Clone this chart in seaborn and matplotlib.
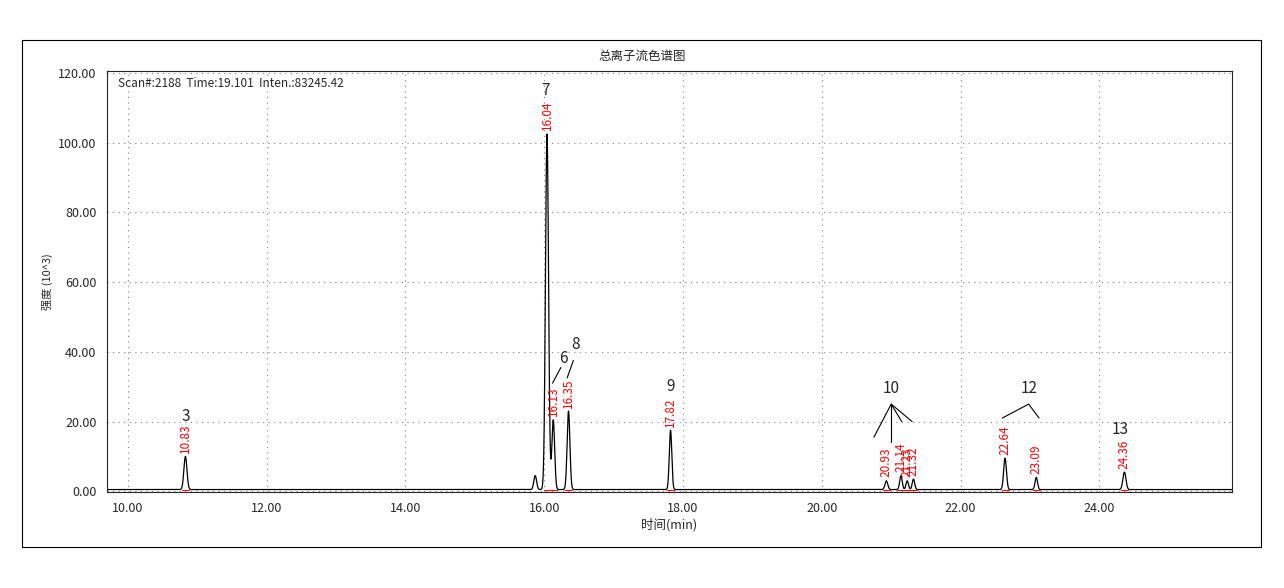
import numpy as np
import pandas as pd
import matplotlib
matplotlib.use("Agg")
import matplotlib.pyplot as plt
import seaborn as sns

# peak table
rt = [10.83, 15.87, 16.04, 16.13, 16.35, 17.82, 20.93, 21.14, 21.23, 21.32, 22.64, 23.09, 24.36]
height = [9.5, 4.0, 102.0, 20.0, 22.5, 17.0, 2.5, 4.0, 2.5, 3.0, 9.0, 3.5, 5.0]
width = [0.022, 0.02, 0.022, 0.02, 0.02, 0.018, 0.02, 0.018, 0.018, 0.018, 0.02, 0.018, 0.022]
labelled = [True, False, True, True, True, True, True, True, True, True, True, True, True]
baseline = 0.5

# compound numbers and where they are written
num_text = ["3", "7", "6", "8", "9", "10", "12", "13"]
num_x = [10.83, 16.02, 16.27, 16.45, 17.82, 21.0, 22.98, 24.3]
num_y = [21.5, 115.0, 38.0, 42.0, 30.0, 29.5, 29.5, 17.8]

sns.set_style("white")
plt.rcParams['font.family'] = ['Noto Sans CJK SC', 'DejaVu Sans']

x = np.linspace(9.7, 25.91, 6000)
y = np.full_like(x, baseline)
for r, h, w in zip(rt, height, width):
    y += h * np.exp(-0.5 * ((x - r) / w) ** 2)
df = pd.DataFrame({"t": x, "I": y})

fig = plt.figure(figsize=(12.84, 5.88), dpi=100)
fig.patches.append(plt.Rectangle((22 / 1284, 1 - 547 / 588), 1239 / 1284, 507 / 588,
                                 transform=fig.transFigure, fill=False, edgecolor="black", lw=0.8))
ax = fig.add_axes([107 / 1284, 1 - 492 / 588, 1125 / 1284, 421 / 588])
sns.lineplot(data=df, x="t", y="I", ax=ax, color="black", lw=0.9)
ax.set_xlim(9.7, 25.91)
ax.set_ylim(-0.2, 120.5)
ax.set_xticks(np.arange(10, 26, 2))
ax.set_xticks(np.arange(10, 26, 0.5), minor=True)
ax.set_yticks(np.arange(0, 121, 20))
ax.xaxis.set_major_formatter(matplotlib.ticker.FormatStrFormatter("%.2f"))
ax.yaxis.set_major_formatter(matplotlib.ticker.FormatStrFormatter("%.2f"))
ax.tick_params(labelsize=9, length=4, direction="out")
ax.tick_params(which="minor", length=3)
ax.grid(True, ls=(0, (1, 4)), color="gray", lw=0.8)
for s in ax.spines.values():
    s.set_linewidth(0.8)
ax.set_xlabel("时间(min)", fontsize=9, labelpad=2)
ax.set_ylabel("强度 (10^3)", fontsize=8)
fig.text(0.5, 1 - 56 / 588, "总离子流色谱图", ha="center", va="center", fontsize=9)
ax.text(0.01, 0.985, "Scan#:2188  Time:19.101  Inten.:83245.42", transform=ax.transAxes,
        fontsize=8.5, va="top")

for r, h, lab in zip(rt, height, labelled):
    if lab:
        ax.text(r, h + baseline + 1.0, f"{r:.2f}", rotation=90, color="red",
                fontsize=8.5, ha="center", va="bottom")
        ax.plot([r - 0.05, r + 0.05], [0.3, 0.3], color="red", lw=0.8)

for t, tx, ty in zip(num_text, num_x, num_y):
    ax.text(tx, ty, t, fontsize=11, ha="center", va="center")

# leader lines
ax.plot([16.12, 16.24], [31, 35.5], color="black", lw=0.8)
ax.plot([16.33, 16.42], [32.5, 37.5], color="black", lw=0.8)
ax.plot([20.75, 21.0, 21.15], [15.5, 25, 20], color="black", lw=0.8)
ax.plot([21.0, 21.0], [25, 14], color="black", lw=0.8)
ax.plot([21.0, 21.3], [25, 20], color="black", lw=0.8)
ax.plot([22.6, 22.98, 23.13], [21, 25, 21], color="black", lw=0.8)

fig.savefig("out.png", dpi=100)
